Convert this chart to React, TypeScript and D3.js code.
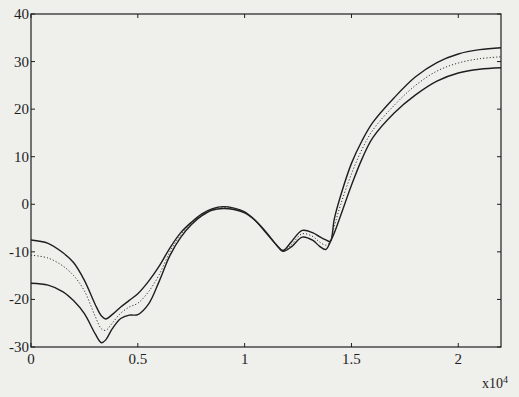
import React from "react";
import * as d3 from "d3";

const xValues = [0, 0.08, 0.15, 0.2, 0.25, 0.3, 0.33, 0.35, 0.38, 0.42, 0.46, 0.5, 0.55, 0.6, 0.65, 0.7, 0.75, 0.8, 0.85, 0.9, 0.95, 1.0, 1.05, 1.1, 1.15, 1.18, 1.22, 1.27, 1.32, 1.35, 1.38, 1.4, 1.42, 1.45, 1.5, 1.55, 1.6, 1.7, 1.8, 1.9, 2.0, 2.1, 2.2];

const upperSeries = [-7.5, -8.2, -10.2, -12.3, -16, -21, -23.5, -24.1, -23.2, -21.6, -20.2, -18.8, -16.2, -13, -9.2, -6, -3.8, -2, -0.9, -0.5, -0.8, -1.6, -3.4, -6.0, -8.6, -9.7, -7.8, -5.5, -6.0, -6.8, -7.5, -7.8, -3.0, 1.9, 8.6, 13.4, 17.2, 22.4, 26.8, 29.8, 31.6, 32.5, 32.9];

const middleSeries = [-10.7, -11.3, -13.0, -15.0, -18.2, -23.5, -26.2, -26.5, -25.0, -22.9, -21.6, -20.8, -18.4, -14.8, -10.0, -6.5, -4.0, -2.2, -1.0, -0.7, -0.9, -1.7, -3.4, -5.9, -8.6, -9.8, -8.4, -6.2, -6.8, -7.9, -8.6, -7.9, -4.6, 0.0, 6.4, 11.6, 15.6, 20.8, 25.0, 28.0, 29.7, 30.6, 31.0];

const lowerSeries = [-16.6, -17.0, -18.4, -20.3, -23.0, -27.2, -29.1, -28.5, -26.2, -24.0, -23.3, -23.2, -21.0, -16.2, -10.8, -7.0, -4.3, -2.4, -1.2, -0.9, -1.1, -1.8, -3.4, -5.8, -8.6, -9.9, -8.9, -6.9, -7.6, -8.8, -9.5, -8.0, -6.0, -2.3, 4.0, 9.6, 14.0, 19.2, 23.0, 25.9, 27.6, 28.4, 28.7];

const xTicks = [0, 0.5, 1, 1.5, 2];
const yTicks = [-30, -20, -10, 0, 10, 20, 30, 40];
const xTickLabels = ["0", "0.5", "1", "1.5", "2"];
const yTickLabels = ["-30", "-20", "-10", "0", "10", "20", "30", "40"];
const xMultiplier = "x10";
const xExponent = "4";

const W = 519;
const H = 397;
const left = 31;
const right = 501;
const top = 14;
const bottom = 347;

export default function App() {
  const x = d3.scaleLinear().domain([0, 2.2]).range([left, right]);
  const y = d3.scaleLinear().domain([-30, 40]).range([bottom, top]);
  const line = (vals: number[]) =>
    d3
      .line<number>()
      .x((_, i) => x(xValues[i]))
      .y((d) => y(d))
      .curve(d3.curveCatmullRom.alpha(0.5))(vals) || "";

  const ink = "#1e1e1e";
  const font = "'Liberation Serif', 'DejaVu Serif', serif";
  const tl = 4;

  return (
    <svg
      width={W}
      height={H}
      style={{ position: "absolute", left: 0, top: 0, background: "#efefec" }}
    >
      <rect x={0} y={0} width={W} height={H} fill="#efefec" />
      <path d={line(upperSeries)} fill="none" stroke={ink} strokeWidth={1.4} />
      <path d={line(lowerSeries)} fill="none" stroke={ink} strokeWidth={1.4} />
      <path d={line(middleSeries)} fill="none" stroke="#333" strokeWidth={1} strokeDasharray="1.2,2" />
      <rect x={left} y={top} width={right - left} height={bottom - top} fill="none" stroke={ink} strokeWidth={1.2} />
      {xTicks.map((t) => (
        <g key={"xt" + t}>
          <line x1={x(t)} x2={x(t)} y1={bottom} y2={bottom - tl} stroke={ink} strokeWidth={1} />
          <line x1={x(t)} x2={x(t)} y1={top} y2={top + tl} stroke={ink} strokeWidth={1} />
        </g>
      ))}
      {yTicks.map((t) => (
        <g key={"yt" + t}>
          <line x1={left} x2={left + tl} y1={y(t)} y2={y(t)} stroke={ink} strokeWidth={1} />
          <line x1={right} x2={right - tl} y1={y(t)} y2={y(t)} stroke={ink} strokeWidth={1} />
        </g>
      ))}
      {xTicks.map((t, i) => (
        <text key={"xl" + t} x={x(t)} y={bottom + 17} textAnchor="middle" fontFamily={font} fontSize={15} fill={ink}>
          {xTickLabels[i]}
        </text>
      ))}
      {yTicks.map((t, i) => (
        <text key={"yl" + t} x={left - 2} y={y(t) + 5} textAnchor="end" fontFamily={font} fontSize={15} fill={ink}>
          {yTickLabels[i]}
        </text>
      ))}
      <text x={482} y={388} fontFamily={font} fontSize={14} fill={ink}>
        {xMultiplier}
        <tspan dy={-5} fontSize={10}>{xExponent}</tspan>
      </text>
    </svg>
  );
}
